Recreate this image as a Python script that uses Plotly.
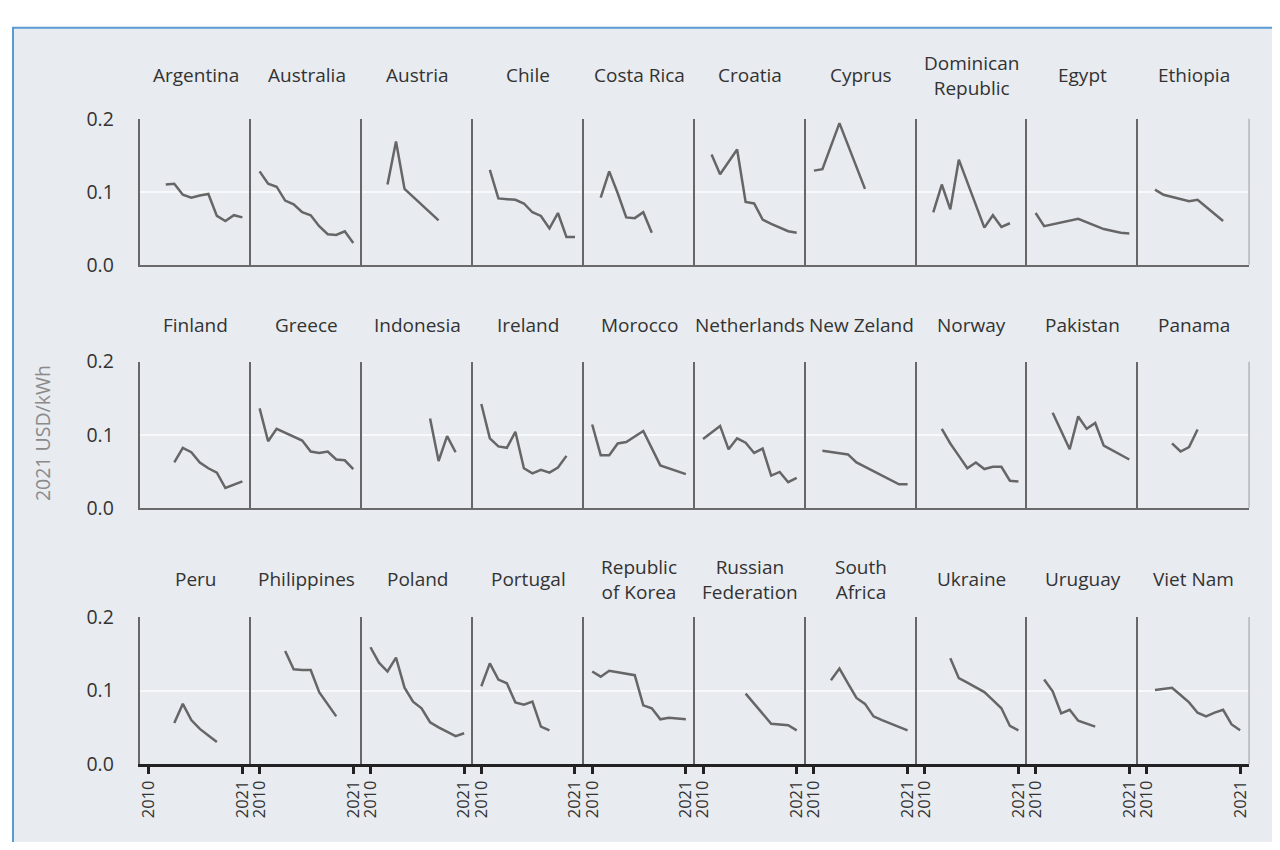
import plotly.graph_objects as go

# ---------------- data (2021 USD/kWh) ----------------
countries = ["Argentina", "Australia", "Austria", "Chile", "Costa Rica", "Croatia", "Cyprus",
             "Dominican<br>Republic", "Egypt", "Ethiopia",
             "Finland", "Greece", "Indonesia", "Ireland", "Morocco", "Netherlands", "New Zeland",
             "Norway", "Pakistan", "Panama",
             "Peru", "Philippines", "Poland", "Portugal", "Republic<br>of Korea", "Russian<br>Federation",
             "South<br>Africa", "Ukraine", "Uruguay", "Viet Nam"]

argentina_years = [2012, 2013, 2014, 2015, 2016, 2017, 2018, 2019, 2020, 2021]
argentina_vals = [0.110, 0.111, 0.096, 0.092, 0.095, 0.097, 0.067, 0.060, 0.068, 0.065]
australia_years = [2010, 2011, 2012, 2013, 2014, 2015, 2016, 2017, 2018, 2019, 2020, 2021]
australia_vals = [0.128, 0.111, 0.107, 0.088, 0.083, 0.072, 0.068, 0.053, 0.042, 0.041, 0.046, 0.030]
austria_years = [2012, 2013, 2014, 2018]
austria_vals = [0.110, 0.169, 0.104, 0.061]
chile_years = [2011, 2012, 2014, 2015, 2016, 2017, 2018, 2019, 2020, 2021]
chile_vals = [0.130, 0.091, 0.089, 0.084, 0.072, 0.067, 0.050, 0.071, 0.038, 0.038]
costa_rica_years = [2011, 2012, 2013, 2014, 2015, 2016, 2017]
costa_rica_vals = [0.092, 0.128, 0.098, 0.065, 0.064, 0.072, 0.044]
croatia_years = [2011, 2012, 2014, 2015, 2016, 2017, 2018, 2019, 2020, 2021]
croatia_vals = [0.151, 0.124, 0.158, 0.086, 0.084, 0.062, 0.056, 0.051, 0.046, 0.044]
cyprus_years = [2010, 2011, 2013, 2016]
cyprus_vals = [0.129, 0.131, 0.194, 0.104]
dominican_years = [2011, 2012, 2013, 2014, 2017, 2018, 2019, 2020]
dominican_vals = [0.072, 0.110, 0.076, 0.144, 0.051, 0.068, 0.052, 0.057]
egypt_years = [2010, 2011, 2015, 2018, 2020, 2021]
egypt_vals = [0.071, 0.053, 0.063, 0.049, 0.044, 0.043]
ethiopia_years = [2011, 2012, 2015, 2016, 2019]
ethiopia_vals = [0.103, 0.096, 0.087, 0.089, 0.060]

finland_years = [2013, 2014, 2015, 2016, 2017, 2018, 2019, 2021]
finland_vals = [0.062, 0.082, 0.076, 0.062, 0.054, 0.048, 0.027, 0.036]
greece_years = [2010, 2011, 2012, 2013, 2014, 2015, 2016, 2017, 2018, 2019, 2020, 2021]
greece_vals = [0.136, 0.091, 0.108, 0.103, 0.097, 0.092, 0.077, 0.075, 0.077, 0.066, 0.065, 0.053]
indonesia_years = [2017, 2018, 2019, 2020]
indonesia_vals = [0.122, 0.064, 0.098, 0.076]
ireland_years = [2010, 2011, 2012, 2013, 2014, 2015, 2016, 2017, 2018, 2019, 2020]
ireland_vals = [0.142, 0.095, 0.084, 0.082, 0.104, 0.054, 0.047, 0.052, 0.048, 0.055, 0.071]
morocco_years = [2010, 2011, 2012, 2013, 2014, 2015, 2016, 2018, 2021]
morocco_vals = [0.114, 0.072, 0.072, 0.088, 0.090, 0.097, 0.105, 0.058, 0.046]
netherlands_years = [2010, 2012, 2013, 2014, 2015, 2016, 2017, 2018, 2019, 2020, 2021]
netherlands_vals = [0.094, 0.112, 0.080, 0.095, 0.089, 0.075, 0.081, 0.044, 0.049, 0.035, 0.041]
new_zealand_years = [2011, 2014, 2015, 2020, 2021]
new_zealand_vals = [0.078, 0.073, 0.062, 0.032, 0.032]
norway_years = [2012, 2013, 2014, 2015, 2016, 2017, 2018, 2019, 2020, 2021]
norway_vals = [0.108, 0.088, 0.071, 0.054, 0.062, 0.053, 0.056, 0.056, 0.037, 0.036]
pakistan_years = [2012, 2014, 2015, 2016, 2017, 2018, 2021]
pakistan_vals = [0.130, 0.080, 0.125, 0.108, 0.116, 0.085, 0.066]
panama_years = [2013, 2014, 2015, 2016]
panama_vals = [0.088, 0.077, 0.083, 0.107]

peru_years = [2013, 2014, 2015, 2016, 2017, 2018]
peru_vals = [0.056, 0.082, 0.060, 0.048, 0.039, 0.030]
philippines_years = [2013, 2014, 2015, 2016, 2017, 2019]
philippines_vals = [0.154, 0.129, 0.128, 0.128, 0.098, 0.065]
poland_years = [2010, 2011, 2012, 2013, 2014, 2015, 2016, 2017, 2018, 2019, 2020, 2021]
poland_vals = [0.159, 0.138, 0.126, 0.145, 0.104, 0.085, 0.076, 0.057, 0.050, 0.044, 0.038, 0.042]
portugal_years = [2010, 2011, 2012, 2013, 2014, 2015, 2016, 2017, 2018]
portugal_vals = [0.106, 0.137, 0.115, 0.110, 0.084, 0.081, 0.085, 0.051, 0.046]
korea_years = [2010, 2011, 2012, 2015, 2016, 2017, 2018, 2019, 2020, 2021]
korea_vals = [0.126, 0.119, 0.127, 0.121, 0.080, 0.076, 0.061, 0.063, 0.062, 0.061]
russia_years = [2015, 2018, 2020, 2021]
russia_vals = [0.096, 0.055, 0.053, 0.046]
south_africa_years = [2012, 2013, 2014, 2015, 2016, 2017, 2018, 2019, 2020, 2021]
south_africa_vals = [0.114, 0.130, 0.110, 0.090, 0.082, 0.065, 0.060, 0.055, 0.050, 0.046]
ukraine_years = [2013, 2014, 2015, 2016, 2017, 2018, 2019, 2020, 2021]
ukraine_vals = [0.144, 0.117, 0.111, 0.104, 0.098, 0.087, 0.076, 0.052, 0.046]
uruguay_years = [2011, 2012, 2013, 2014, 2015, 2016, 2017]
uruguay_vals = [0.115, 0.099, 0.069, 0.074, 0.059, 0.055, 0.051]
viet_nam_years = [2011, 2013, 2014, 2015, 2016, 2017, 2018, 2019, 2020, 2021]
viet_nam_vals = [0.101, 0.104, 0.094, 0.084, 0.070, 0.065, 0.070, 0.074, 0.054, 0.046]

series = [
    (argentina_years, argentina_vals), (australia_years, australia_vals), (austria_years, austria_vals),
    (chile_years, chile_vals), (costa_rica_years, costa_rica_vals), (croatia_years, croatia_vals),
    (cyprus_years, cyprus_vals), (dominican_years, dominican_vals), (egypt_years, egypt_vals),
    (ethiopia_years, ethiopia_vals),
    (finland_years, finland_vals), (greece_years, greece_vals), (indonesia_years, indonesia_vals),
    (ireland_years, ireland_vals), (morocco_years, morocco_vals), (netherlands_years, netherlands_vals),
    (new_zealand_years, new_zealand_vals), (norway_years, norway_vals), (pakistan_years, pakistan_vals),
    (panama_years, panama_vals),
    (peru_years, peru_vals), (philippines_years, philippines_vals), (poland_years, poland_vals),
    (portugal_years, portugal_vals), (korea_years, korea_vals), (russia_years, russia_vals),
    (south_africa_years, south_africa_vals), (ukraine_years, ukraine_vals), (uruguay_years, uruguay_vals),
    (viet_nam_years, viet_nam_vals),
]

y_tick_vals = [0.0, 0.1, 0.2]
y_tick_text = ["0.0", "0.1", "0.2"]
x_tick_vals = [2010, 2021]
x_tick_text = ["2010", "2021"]
y_title = "2021 USD/kWh"

# ---------------- layout geometry (pixels in figure) ----------------
W, H = 1264, 834
COL_LEFT0 = 129.0
COL_W = 111.3
ROW_TOP = [100, 351, 615]
ROW_BOT = [251, 502, 767]
TITLE_Y = [55, 313, 576]
FONT = "Open Sans"
BG = "#e8ebf0"
LINE = "#676767"

def px(x):
    return x / W

def py(y):
    return 1 - y / H

fig = go.Figure()
annotations = []
shapes = []

# background panel with blue frame
shapes.append(dict(type="rect", xref="paper", yref="paper", x0=px(1), x1=1.05, y0=-0.05, y1=py(6),
                   fillcolor=BG, line=dict(color="#5b9bd5", width=2), layer="below"))

for k, (name, (yrs, vals)) in enumerate(zip(countries, series)):
    r, c = divmod(k, 10)
    idx = k + 1
    xa = "x" if idx == 1 else f"x{idx}"
    ya = "y" if idx == 1 else f"y{idx}"
    x0 = COL_LEFT0 + c * COL_W
    x1 = x0 + COL_W
    fig.add_trace(go.Scatter(x=yrs, y=vals, mode="lines", xaxis=xa, yaxis=ya,
                             line=dict(color="#666666", width=2.5), showlegend=False,
                             hoverinfo="x+y"))
    bottom = r == 2
    xkw = dict(domain=[px(x0), px(x1)], range=[2009.03, 2022.05], anchor=ya,
               showgrid=False, zeroline=False, showline=True,
               linecolor="#222222" if bottom else "#6a6a6a", linewidth=2.5 if bottom else 2,
               tickvals=x_tick_vals, ticktext=x_tick_text,
               ticks="outside" if bottom else "", ticklen=7, tickwidth=2.5, tickcolor="#222222",
               showticklabels=bottom, tickangle=-90,
               tickfont=dict(family=FONT, size=16.5, color="#333333"))
    ykw = dict(domain=[py(ROW_BOT[r]), py(ROW_TOP[r])], range=[0, 0.2], anchor=xa,
               showgrid=True, gridcolor="#f8f9fb", gridwidth=1.5, zeroline=False,
               showline=True, linecolor=LINE, linewidth=1.5,
               tickvals=y_tick_vals, ticktext=y_tick_text, ticks="",
               showticklabels=(c == 0), ticklabelstandoff=21,
               tickfont=dict(family=FONT, size=19.5, color="#333333"))
    fig.update_layout({("xaxis" if idx == 1 else f"xaxis{idx}"): xkw,
                       ("yaxis" if idx == 1 else f"yaxis{idx}"): ykw})
    annotations.append(dict(text=name, x=px((x0 + x1) / 2), y=py(TITLE_Y[r]), xref="paper", yref="paper",
                            xanchor="center", yanchor="middle", showarrow=False,
                            font=dict(family=FONT, size=19, color="#333333")))
    if c == 9:
        shapes.append(dict(type="line", xref="paper", yref="paper", x0=px(x1), x1=px(x1),
                           y0=py(ROW_BOT[r]), y1=py(ROW_TOP[r]), line=dict(color="#b5b5b5", width=1.5)))

annotations.append(dict(text=y_title, x=px(30), y=py(425), xref="paper", yref="paper",
                        xanchor="center", yanchor="middle", textangle=-90, showarrow=False,
                        font=dict(family=FONT, size=19.5, color="#8a8a8a")))

fig.update_layout(width=W, height=H, margin=dict(l=0, r=0, t=0, b=0),
                  paper_bgcolor="white", plot_bgcolor="rgba(0,0,0,0)",
                  annotations=annotations, shapes=shapes, showlegend=False,
                  font=dict(family=FONT))

fig.write_html("out.html")
